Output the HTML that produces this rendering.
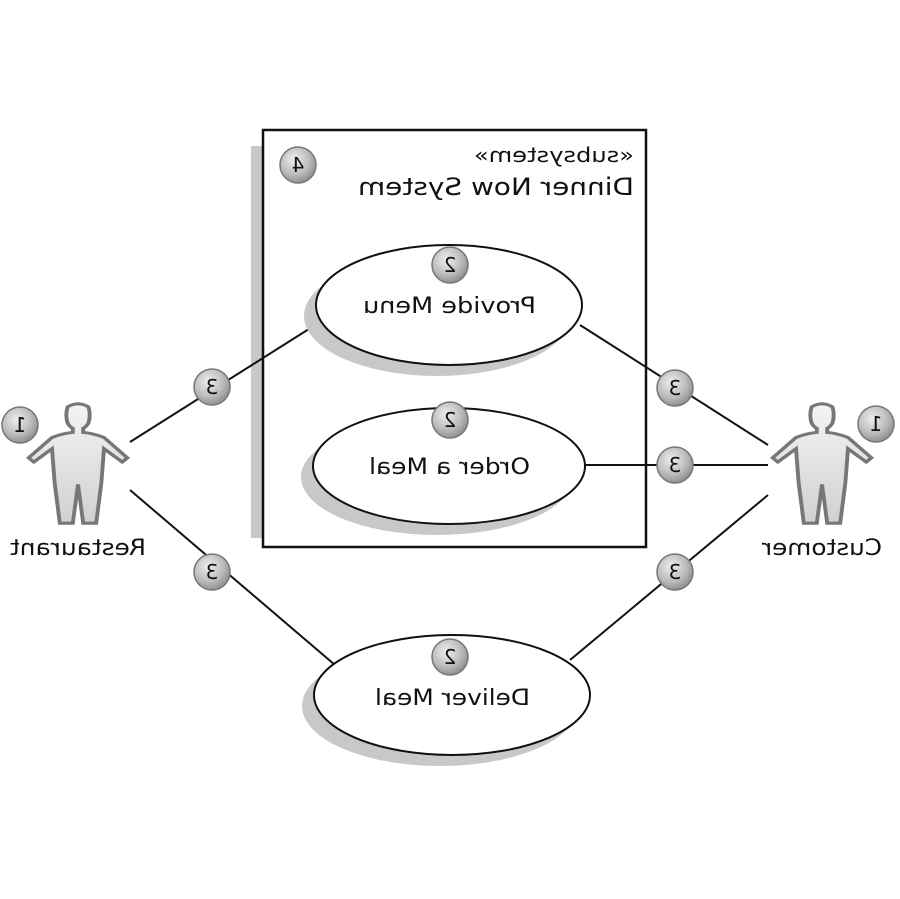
<!DOCTYPE html>
<html><head><style>
html,body{margin:0;padding:0;background:#fff;}
svg{display:block;}
text{font-family:"DejaVu Sans","Liberation Sans",sans-serif;fill:#111;}
</style></head><body>
<svg width="900" height="899" viewBox="0 0 900 899" xmlns="http://www.w3.org/2000/svg">
<defs>
<radialGradient id="bg" cx="40%" cy="35%" r="70%"><stop offset="0" stop-color="#eee"/><stop offset="0.6" stop-color="#bbb"/><stop offset="1" stop-color="#888"/></radialGradient>
<linearGradient id="ag" x1="0" y1="0" x2="0" y2="1"><stop offset="0" stop-color="#f4f4f4"/><stop offset="1" stop-color="#d0d0d0"/></linearGradient>
<g id="actor">
<path d="M-8,-56 Q-10,-48 -8,-40 Q-6,-36 -4,-35 L-4,-31 Q-12,-30 -20,-26 L-38,-6 L-34,-2 L-20,-15 L-18,18 L-14,58 L-4,58 L0,20 L4,58 L14,58 L18,18 L20,-15 L34,-2 L38,-6 L20,-26 Q12,-30 4,-31 L4,-35 Q6,-36 8,-40 Q10,-48 8,-56 Q0,-62 -8,-56 Z" fill="url(#ag)" stroke="#777" stroke-width="3"/>
</g>
</defs>
<rect x="251" y="146" width="383" height="392" fill="#c8c8c8"/>
<rect x="263" y="130" width="383" height="417" fill="#fff" stroke="#111" stroke-width="2.5"/>
<g transform="matrix(-1,0,0,1,1268,0)">
<text x="634" y="162" font-size="20" textLength="160" lengthAdjust="spacingAndGlyphs">«subsystem»</text>
<text x="634" y="195" font-size="24" textLength="276" lengthAdjust="spacingAndGlyphs">Dinner Now System</text>
</g>
<g stroke="#111" stroke-width="2">
<line x1="130" y1="442" x2="320" y2="322"/>
<line x1="130" y1="490" x2="335" y2="665"/>
<line x1="768" y1="445" x2="580" y2="325"/>
<line x1="585" y1="465" x2="768" y2="465"/>
<line x1="768" y1="495" x2="570" y2="660"/>
</g>
<ellipse cx="437" cy="316" rx="133" ry="60" fill="#c8c8c8"/>
<ellipse cx="449" cy="305" rx="133" ry="60" fill="#fff" stroke="#111" stroke-width="2"/>
<ellipse cx="437" cy="477" rx="136" ry="58" fill="#c8c8c8"/>
<ellipse cx="449" cy="466" rx="136" ry="58" fill="#fff" stroke="#111" stroke-width="2"/>
<ellipse cx="440" cy="706" rx="138" ry="60" fill="#c8c8c8"/>
<ellipse cx="452" cy="695" rx="138" ry="60" fill="#fff" stroke="#111" stroke-width="2"/>
<g font-size="22" lengthAdjust="spacingAndGlyphs">
<text transform="matrix(-1,0,0,1,898,0)" x="362" y="313" textLength="173" lengthAdjust="spacingAndGlyphs">Provide Menu</text>
<text transform="matrix(-1,0,0,1,898,0)" x="368" y="474" textLength="161" lengthAdjust="spacingAndGlyphs">Order a Meal</text>
<text transform="matrix(-1,0,0,1,904,0)" x="374" y="705" textLength="155" lengthAdjust="spacingAndGlyphs">Deliver Meal</text>
<text transform="matrix(-1,0,0,1,156,0)" x="10" y="555" textLength="136" lengthAdjust="spacingAndGlyphs">Restaurant</text>
<text transform="matrix(-1,0,0,1,1644,0)" x="762" y="555" textLength="120" lengthAdjust="spacingAndGlyphs">Customer</text>
</g>
<use href="#actor" transform="translate(78,464) scale(1.3,1.02)"/>
<use href="#actor" transform="translate(822,464) scale(1.3,1.02)"/>
<g stroke="#777" stroke-width="1.5" fill="url(#bg)">
<circle cx="298" cy="165" r="18"/>
<circle cx="450" cy="265" r="18"/>
<circle cx="450" cy="420" r="18"/>
<circle cx="450" cy="657" r="18"/>
<circle cx="20" cy="425" r="18"/>
<circle cx="876" cy="424" r="18"/>
<circle cx="212" cy="387" r="18"/>
<circle cx="212" cy="572" r="18"/>
<circle cx="675" cy="388" r="18"/>
<circle cx="675" cy="465" r="18"/>
<circle cx="675" cy="572" r="18"/>
</g>
<g font-size="20" text-anchor="middle">
<text transform="matrix(-1,0,0,1,596,0)" x="298" y="172">4</text>
<text transform="matrix(-1,0,0,1,900,0)" x="450" y="272">2</text>
<text transform="matrix(-1,0,0,1,900,0)" x="450" y="427">2</text>
<text transform="matrix(-1,0,0,1,900,0)" x="450" y="664">2</text>
<text transform="matrix(-1,0,0,1,40,0)" x="20" y="432">1</text>
<text transform="matrix(-1,0,0,1,1752,0)" x="876" y="431">1</text>
<text transform="matrix(-1,0,0,1,424,0)" x="212" y="394">3</text>
<text transform="matrix(-1,0,0,1,424,0)" x="212" y="579">3</text>
<text transform="matrix(-1,0,0,1,1350,0)" x="675" y="395">3</text>
<text transform="matrix(-1,0,0,1,1350,0)" x="675" y="472">3</text>
<text transform="matrix(-1,0,0,1,1350,0)" x="675" y="579">3</text>
</g>
</svg>
</body></html>
